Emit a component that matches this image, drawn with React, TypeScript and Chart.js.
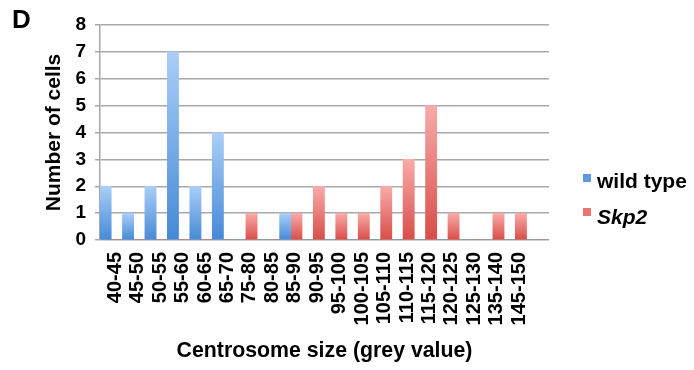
import React, { useEffect, useRef } from "react";
import { Chart, registerables } from "chart.js";

Chart.register(...registerables);

const categories = [
  "40-45", "45-50", "50-55", "55-60", "60-65", "65-70", "75-80", "80-85", "85-90", "90-95",
  "95-100", "100-105", "105-110", "110-115", "115-120", "120-125", "125-130", "135-140", "145-150", "",
];
const wildType = [2, 1, 2, 7, 2, 4, 0, 0, 1, 0, 0, 0, 0, 0, 0, 0, 0, 0, 0, 0];
const skp2 = [0, 0, 0, 0, 0, 0, 1, 0, 1, 2, 1, 1, 2, 3, 5, 1, 0, 1, 1, 0];
const yTicks = [0, 1, 2, 3, 4, 5, 6, 7, 8];
const seriesNames = ["wild type", "Skp2"];
const panelLabel = "D";
const xTitle = "Centrosome size (grey value)";
const yTitle = "Number of cells";

const FONT = "'Liberation Sans', Arial, Helvetica, sans-serif";
const BLUE_TOP = "#aacef8";
const BLUE_BOT = "#4689d6";
const RED_TOP = "#f8abaa";
const RED_BOT = "#d84d48";

function gradientFor(top: string, bot: string) {
  return (ctx: any) => {
    const chart = ctx.chart;
    const scales = chart.scales;
    if (!chart.chartArea || ctx.type !== "data" || !scales || !scales.y) return bot;
    const v = ctx.raw;
    if (!v) return bot;
    const yTop = scales.y.getPixelForValue(v);
    const yBot = scales.y.getPixelForValue(0);
    if (!(yBot > yTop)) return bot;
    const g = chart.ctx.createLinearGradient(0, yTop, 0, yBot);
    g.addColorStop(0, top);
    g.addColorStop(1, bot);
    return g;
  };
}

const extrasPlugin = {
  id: "extras",
  afterDraw(chart: any) {
    const c = chart.ctx;
    c.save();
    c.fillStyle = "#000";
    c.textBaseline = "alphabetic";
    c.textAlign = "left";
    c.font = `bold 26px ${FONT}`;
    c.fillText(panelLabel, 12, 28);
    // legend
    const items = [
      { name: seriesNames[0], color: "#5b9ae3", italic: false, sy: 174, by: 188 },
      { name: seriesNames[1], color: "#ec7470", italic: true, sy: 208, by: 224 },
    ];
    for (const it of items) {
      c.fillStyle = it.color;
      c.fillRect(583, it.sy, 8, 8);
      c.fillStyle = "#000";
      c.font = `${it.italic ? "italic " : ""}bold 21px ${FONT}`;
      c.fillText(it.name, 597, it.by);
    }
    c.restore();
  },
};

export default function App() {
  const ref = useRef<HTMLCanvasElement | null>(null);
  useEffect(() => {
    if (!ref.current) return;
    const chart = new Chart(ref.current, {
      type: "bar",
      data: {
        labels: categories,
        datasets: [
          {
            label: seriesNames[0],
            data: wildType,
            backgroundColor: gradientFor(BLUE_TOP, BLUE_BOT),
            borderWidth: 0,
            barPercentage: 1,
            categoryPercentage: 1,
          },
          {
            label: seriesNames[1],
            data: skp2,
            backgroundColor: gradientFor(RED_TOP, RED_BOT),
            borderWidth: 0,
            barPercentage: 1,
            categoryPercentage: 1,
          },
        ],
      },
      options: {
        animation: false,
        responsive: false,
        maintainAspectRatio: false,
        layout: { padding: { left: 0, top: 25, right: 145, bottom: 0 } },
        plugins: {
          legend: { display: false },
          tooltip: { enabled: false },
        },
        scales: {
          x: {
            grid: { display: false, drawTicks: false },
            border: { display: false },
            ticks: {
              minRotation: 90,
              maxRotation: 90,
              autoSkip: false,
              padding: 12,
              labelOffset: 4,
              color: "#000",
              font: { family: FONT, size: 20, weight: "bold" },
            },
            title: {
              display: true,
              text: xTitle,
              color: "#000",
              font: { family: FONT, size: 21.3, weight: "bold" },
              padding: { top: 0, bottom: 6 },
            },
            afterFit: (s: any) => {
              s.height = 130;
            },
          },
          y: {
            min: 0,
            max: 8,
            afterBuildTicks: (s: any) => {
              s.ticks = yTicks.map((v) => ({ value: v }));
            },
            grid: { color: "#a8a8a8", lineWidth: 1.5, tickLength: 5, drawTicks: true },
            border: { display: true, color: "#a8a8a8", width: 1.5 },
            ticks: {
              padding: 9,
              color: "#000",
              font: { family: FONT, size: 19, weight: "bold" },
            },
            title: {
              display: true,
              text: yTitle,
              color: "#000",
              font: { family: FONT, size: 21, weight: "bold" },
              padding: { top: 42, bottom: 0 },
            },
            afterFit: (s: any) => {
              s.width = 100;
            },
          },
        },
      },
      plugins: [extrasPlugin],
    });
    return () => chart.destroy();
  }, []);
  return (
    <div style={{ position: "fixed", left: 0, top: 0, width: 694, height: 370, background: "#fff" }}>
      <canvas ref={ref} width={694} height={370} style={{ width: 694, height: 370, display: "block" }} />
    </div>
  );
}
